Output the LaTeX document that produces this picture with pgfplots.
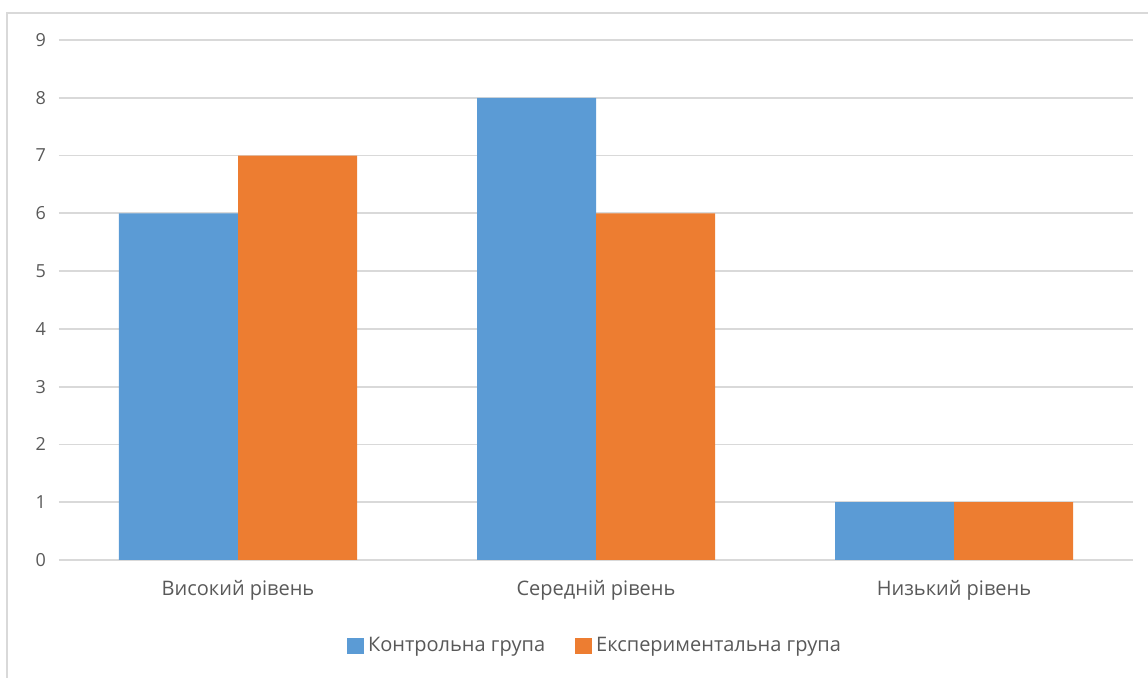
\documentclass[border=0pt]{standalone}
\usepackage{pgfplots}
\pgfplotsset{compat=1.18}
\usepackage{fontspec}
\setmainfont{Open Sans}
\definecolor{cblue}{HTML}{5B9BD5}
\definecolor{corange}{HTML}{ED7D31}
\definecolor{cgrid}{HTML}{D9D9D9}
\definecolor{ctext}{HTML}{595959}
\begin{document}
\begin{tikzpicture}
\path[use as bounding box] (-29.5pt,-59pt) rectangle (544.5pt,280pt);
\draw[cgrid, line width=0.6pt] (-26pt,-80pt) -- (-26pt,273.5pt) -- (560pt,273.5pt);
\begin{axis}[
  at={(0pt,0pt)}, anchor=south west,
  scale only axis, width=537pt, height=260pt,
  ybar=0pt, bar width=59.5pt,
  xmin=-0.5, xmax=2.5, ymin=0, ymax=9,
  xtick={0,1,2},
  xticklabels={Високий рівень, Середній рівень, Низький рівень},
  ytick={0,1,...,9},
  ymajorgrids, grid style={cgrid, line width=0.9pt},
  axis line style={draw=none},
  major tick length=0pt,
  yticklabel style={font=\fontsize{9}{10}\selectfont, text=ctext, xshift=-3pt},
  xticklabel style={font=\fontsize{10}{12}\selectfont, text=ctext, yshift=-6.5pt},
  /pgf/number format/assume math mode=true,
  legend style={at={(0.5,0)}, anchor=center, yshift=-43pt, draw=none,
    font=\fontsize{10}{12}\selectfont, text=ctext,
    legend columns=2, /tikz/every even column/.append style={column sep=13pt}},
  legend image code/.code={\fill[#1] (0pt,-4.2pt) rectangle (8.5pt,4.2pt);},
]
\addplot[fill=cblue, draw=none] coordinates {(0,6) (1,8) (2,1)};
\addplot[fill=corange, draw=none] coordinates {(0,7) (1,6) (2,1)};
\legend{Контрольна група, Експериментальна група}
\end{axis}
\end{tikzpicture}
\end{document}
